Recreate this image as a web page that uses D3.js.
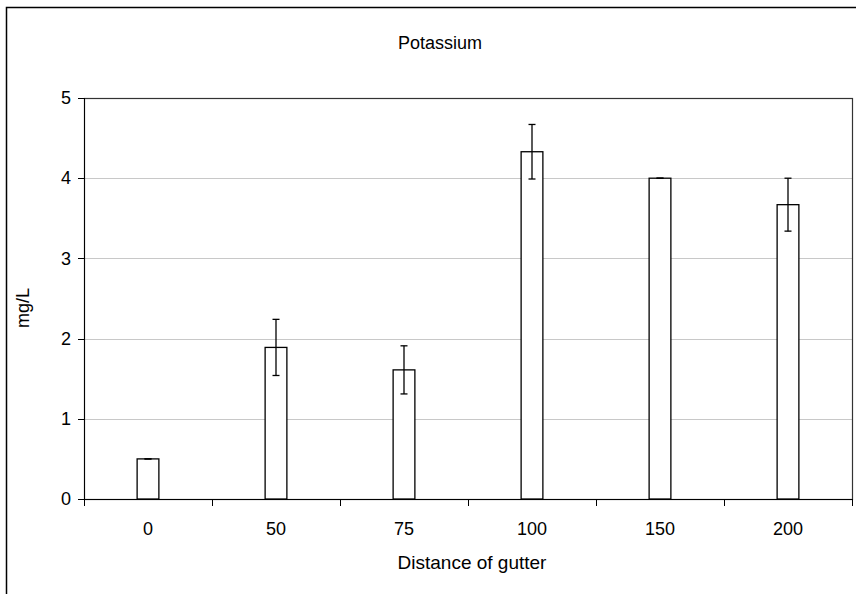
<!DOCTYPE html>
<meta charset="utf-8">

<script src="https://cdn.jsdelivr.net/npm/d3@7"></script>
<style>
    body {
        margin: 0;
        background: #fff;
    }

    text {
        font-family: "Liberation Sans", Arial, sans-serif;
        fill: #000;
    }

    .axis text {
        font-size: 18px;
    }

    .axis path,
    .axis line {
        fill: none;
        stroke: #000;
        shape-rendering: crispEdges;
    }

    .grid line {
        stroke: #c8c8c8;
        shape-rendering: crispEdges;
    }
</style>

<body>
    <svg class="chart"></svg>
</body>

<script>
    ///////////////////////
    // Data
    var distances = ["0", "50", "75", "100", "150", "200"];
    var means = [0.5, 1.89, 1.61, 4.33, 4.0, 3.67];
    var errors = [0, 0.35, 0.30, 0.34, 0, 0.33];
    var yTicks = [0, 1, 2, 3, 4, 5];

    var data = distances.map(function(d, i) {
        return { dist: d, mean: means[i], err: errors[i] };
    });

    ///////////////////////
    // Chart Size Setup
    var W = 856, H = 594;
    var plot = { left: 84, right: 852, top: 98, bottom: 499 };

    var svg = d3.select(".chart")
        .attr("width", W)
        .attr("height", H);

    // outer frame (runs off the right and bottom edge)
    svg.append("rect")
        .attr("x", 6.5)
        .attr("y", 7.5)
        .attr("width", W + 20)
        .attr("height", H + 20)
        .attr("fill", "#fff")
        .attr("stroke", "#000")
        .attr("stroke-width", 1.5);

    ///////////////////////
    // Scales
    var x = d3.scaleBand()
        .domain(distances)
        .range([plot.left, plot.right]);

    var y = d3.scaleLinear()
        .domain([0, 5])
        .range([plot.bottom, plot.top]);

    var barWidth = x.bandwidth() * 0.17;

    ///////////////////////
    // Gridlines
    svg.append("g")
        .attr("class", "grid")
        .selectAll("line")
        .data(yTicks.slice(1, -1))
        .enter().append("line")
        .attr("x1", plot.left)
        .attr("x2", plot.right)
        .attr("y1", function(d) { return Math.round(y(d)) + 0.5; })
        .attr("y2", function(d) { return Math.round(y(d)) + 0.5; });

    // plot area border
    svg.append("rect")
        .attr("x", plot.left + 0.5)
        .attr("y", plot.top + 0.5)
        .attr("width", plot.right - plot.left)
        .attr("height", plot.bottom - plot.top)
        .attr("fill", "none")
        .attr("stroke", "#333")
        .attr("stroke-width", 1.2);

    ///////////////////////
    // Bars
    svg.append("g")
        .selectAll("rect")
        .data(data)
        .enter().append("rect")
        .attr("x", function(d) { return x(d.dist) + x.bandwidth() / 2 - barWidth / 2; })
        .attr("y", function(d) { return y(d.mean); })
        .attr("width", barWidth)
        .attr("height", function(d) { return y(0) - y(d.mean); })
        .attr("fill", "#fff")
        .attr("stroke", "#000")
        .attr("stroke-width", 1.3);

    ///////////////////////
    // Error bars
    var eb = svg.append("g")
        .attr("stroke", "#000")
        .attr("stroke-width", 1.3)
        .selectAll("g")
        .data(data)
        .enter().append("g")
        .attr("transform", function(d) {
            return "translate(" + (x(d.dist) + x.bandwidth() / 2) + ",0)";
        });

    eb.append("line")
        .attr("y1", function(d) { return y(d.mean - d.err); })
        .attr("y2", function(d) { return y(d.mean + d.err); });

    eb.append("line")
        .attr("x1", -3.5).attr("x2", 3.5)
        .attr("y1", function(d) { return y(d.mean + d.err); })
        .attr("y2", function(d) { return y(d.mean + d.err); });

    eb.append("line")
        .attr("x1", -3.5).attr("x2", 3.5)
        .attr("y1", function(d) { return y(d.mean - d.err); })
        .attr("y2", function(d) { return y(d.mean - d.err); });

    ///////////////////////
    // Axis
    var yAxis = d3.axisLeft(y)
        .tickValues(yTicks)
        .tickSize(6)
        .tickPadding(7)
        .tickFormat(d3.format("d"));

    svg.append("g")
        .attr("class", "y axis")
        .attr("transform", "translate(" + plot.left + ",0)")
        .call(yAxis);

    // x axis: ticks sit on the band edges, labels in the middle
    var xAxis = d3.axisBottom(x)
        .tickSize(0)
        .tickPadding(23);

    var gx = svg.append("g")
        .attr("class", "x axis")
        .attr("transform", "translate(0," + plot.bottom + ")")
        .call(xAxis);

    var edges = distances.map(function(d) { return x(d); }).concat([plot.right]);
    gx.selectAll(".edge")
        .data(edges)
        .enter().append("line")
        .attr("class", "edge")
        .attr("x1", function(d) { return Math.round(d) + 0.5; })
        .attr("x2", function(d) { return Math.round(d) + 0.5; })
        .attr("y1", 0)
        .attr("y2", 7);

    ///////////////////////
    // Titles
    svg.append("text")
        .text("Potassium")
        .attr("x", 440)
        .attr("y", 49)
        .attr("text-anchor", "middle")
        .attr("font-size", 18);

    svg.append("text")
        .text("Distance of gutter")
        .attr("x", 472)
        .attr("y", 569)
        .attr("text-anchor", "middle")
        .attr("font-size", 19);

    svg.append("text")
        .text("mg/L")
        .attr("transform", "translate(29,308) rotate(-90)")
        .attr("text-anchor", "middle")
        .attr("font-size", 18);
</script>
